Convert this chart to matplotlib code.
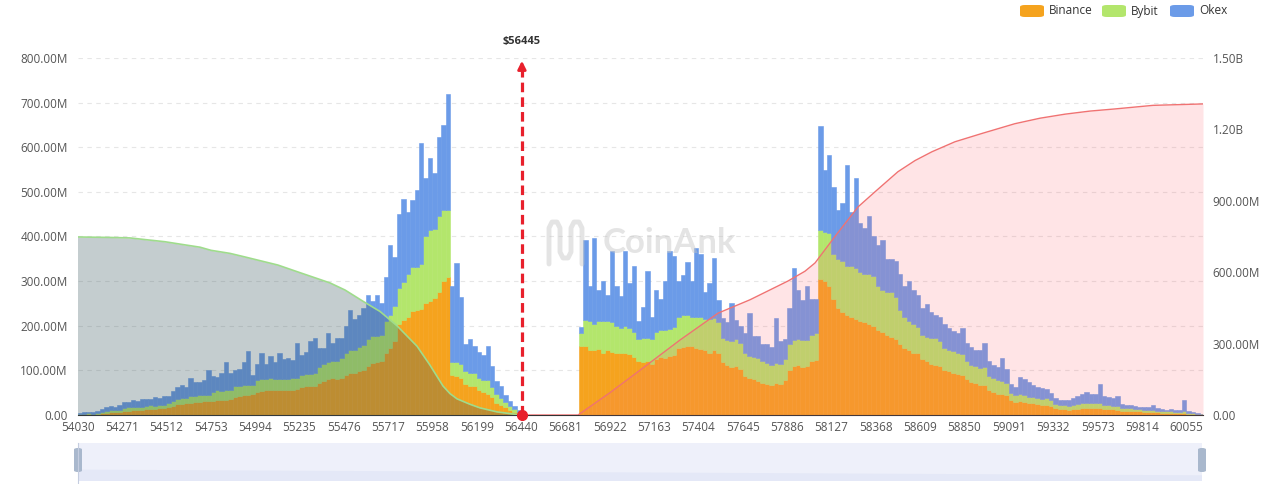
"""Mapa de liquidaciones BTC (estilo CoinAnk): barras apiladas por exchange
y curvas acumuladas de liquidaciones long / short."""
import numpy as np
import matplotlib
matplotlib.use("Agg")
import matplotlib.pyplot as plt
from matplotlib.patches import FancyBboxPatch, Rectangle, Polygon
from matplotlib.lines import Line2D
from matplotlib.ticker import FuncFormatter

plt.rcParams["font.family"] = ["Open Sans", "DejaVu Sans"]

W, H = 1280, 484

# --- datos (millones USD) ---
bin_start = 54030
bin_size = 24.1
current_price = 56445
series_names = ["Binance", "Bybit", "Okex"]

binance = [
    1, 2, 2, 2, 3, 4, 5, 6, 6, 7,
    9, 10, 11, 12, 12, 13, 14, 14, 15, 15,
    17, 20, 24, 25, 27, 28, 29, 30, 31, 31,
    32, 33, 33, 34, 35, 40, 42, 44, 45, 46,
    52, 54, 55, 56, 55, 56, 55, 57, 56, 58,
    62, 64, 66, 66, 72, 76, 80, 82, 80, 84,
    90, 94, 95, 98, 100, 110, 116, 118, 120, 140,
    150, 165, 205, 213, 220, 232, 236, 238, 250, 255,
    262, 275, 300, 310, 90, 88, 84, 70, 66, 64,
    56, 52, 48, 40, 28, 22, 18, 12, 7, 3,
    1,
    0, 0, 0, 0, 0, 0, 0, 0, 0, 0, 0, 0,
    154, 154, 145, 145, 148, 140, 145,
    142, 139, 138, 140, 136, 130, 120, 118, 120, 115,
    125, 130, 128, 132, 135, 150, 152, 155, 154, 150,
    148, 145, 140, 145, 140, 118, 112, 108, 110, 104,
    88, 82, 80, 76, 72, 70, 68, 72, 70, 78,
    100, 110, 112, 108, 110, 120, 124, 305, 300, 290,
    260, 240, 230, 225, 220, 215, 210, 208, 205, 200,
    190, 185, 180, 175, 170, 160, 150, 145, 140, 138,
    125, 120, 115, 112, 110, 100, 98, 95, 92, 90,
    80, 74, 72, 68, 68, 56, 52, 48, 46, 44,
    34, 30, 32, 30, 28, 26, 24, 22, 22, 20,
    15, 14, 13, 12, 13, 14, 15, 16, 15, 16,
    15, 14, 13, 13, 12, 10, 9, 9, 8, 8,
    7, 6, 6, 6, 5, 5, 4, 4, 4, 4,
    3, 2, 2, 1,
]
bybit = [
    1, 1, 2, 1, 2, 3, 4, 5, 5, 5,
    6, 7, 7, 7, 6, 8, 8, 7, 8, 7,
    9, 12, 12, 12, 11, 14, 14, 15, 14, 13,
    20, 22, 21, 22, 20, 24, 24, 24, 23, 22,
    26, 27, 26, 26, 25, 25, 26, 24, 27, 25,
    28, 27, 26, 27, 36, 38, 38, 40, 42, 44,
    50, 52, 50, 55, 56, 60, 60, 58, 60, 70,
    75, 80, 80, 85, 95, 100, 95, 100, 150, 160,
    155, 170, 160, 150, 28, 30, 30, 28, 28, 30,
    26, 26, 30, 22, 18, 16, 12, 9, 6, 3,
    1,
    0, 0, 0, 0, 0, 0, 0, 0, 0, 0, 0, 0,
    29, 59, 65, 60, 62, 70, 65,
    66, 60, 58, 60, 60, 55, 50, 55, 52, 55,
    60, 60, 62, 60, 62, 70, 72, 68, 66, 70,
    72, 70, 75, 72, 68, 55, 56, 58, 60, 58,
    50, 50, 50, 52, 48, 46, 44, 44, 45, 48,
    60, 58, 58, 60, 58, 60, 60, 110, 110, 118,
    100, 110, 115, 110, 115, 115, 110, 108, 110, 112,
    100, 95, 95, 100, 95, 75, 70, 65, 65, 60,
    55, 55, 58, 60, 55, 50, 48, 48, 46, 46,
    40, 38, 38, 38, 40, 32, 30, 30, 30, 28,
    16, 14, 14, 14, 12, 14, 14, 14, 15, 14,
    10, 9, 9, 9, 9, 11, 12, 11, 11, 11,
    11, 9, 9, 8, 9, 6, 6, 6, 6, 5,
    5, 5, 5, 4, 4, 3, 4, 3, 3, 4,
    2, 2, 1, 1,
]
okex = [
    2, 3, 3, 4, 3, 6, 8, 10, 8, 11,
    14, 12, 16, 13, 18, 15, 14, 19, 16, 21,
    16, 22, 26, 30, 25, 40, 30, 28, 33, 56,
    35, 30, 40, 62, 38, 36, 38, 50, 76, 21,
    37, 57, 34, 50, 38, 58, 44, 46, 40, 78,
    45, 50, 74, 79, 42, 36, 66, 40, 50, 45,
    60, 90, 70, 72, 84, 100, 80, 94, 70, 100,
    155, 110, 165, 185, 140, 150, 174, 272, 130, 162,
    125, 177, 190, 260, 170, 222, 150, 62, 76, 60,
    60, 56, 76, 48, 30, 28, 14, 10, 8, 5,
    2,
    0, 0, 0, 0, 0, 0, 0, 0, 0, 0, 0, 0,
    15, 180, 80, 192, 70, 90, 60,
    159, 90, 70, 167, 100, 148, 40, 70, 150, 50,
    95, 70, 110, 175, 160, 80, 90, 120, 80, 155,
    140, 60, 80, 135, 50, 45, 40, 85, 42, 38,
    45, 96, 48, 50, 40, 44, 40, 101, 50, 45,
    80, 162, 110, 90, 120, 80, 75, 233, 140, 174,
    150, 110, 130, 225, 120, 200, 110, 104, 130, 90,
    90, 112, 75, 75, 80, 80, 70, 90, 75, 72,
    60, 73, 57, 53, 55, 55, 50, 45, 46, 60,
    42, 40, 35, 40, 54, 32, 30, 30, 51, 30,
    20, 18, 40, 36, 34, 28, 24, 24, 22, 16,
    12, 11, 12, 13, 16, 18, 20, 25, 20, 20,
    44, 20, 18, 16, 21, 8, 7, 8, 7, 6,
    5, 6, 11, 5, 5, 4, 5, 5, 4, 25,
    4, 3, 2, 1,
]

# acumulado de liquidaciones (eje derecho, millones)
long_cum_price = [54030, 54207, 54315, 54397, 54505, 54587, 54696, 54755, 54859,
                  54940, 55119, 55239, 55402, 55484, 55581, 55674, 55766, 55875,
                  55945, 56016, 56054, 56092, 56163, 56217, 56310, 56419, 56440]
long_cum_value = [748, 746, 744, 737, 728, 718, 705, 692, 679,
                  664, 630, 598, 555, 525, 478, 435, 375, 289,
                  210, 122, 90, 68, 45, 30, 13, 2, 0]
short_cum_price = [56440, 56750, 56924, 57114, 57304, 57511, 57684, 57891, 57983,
                   58038, 58146, 58271, 58364, 58488, 58581, 58673, 58798, 58945,
                   59124, 59260, 59396, 59532, 59668, 59874, 60146]
short_cum_value = [0, 0, 94, 204, 315, 428, 484, 563, 604,
                   639, 750, 874, 938, 1022, 1069, 1106, 1148, 1183,
                   1224, 1247, 1264, 1277, 1286, 1301, 1307]

x_tick_labels = [54030 + 241 * k for k in range(26)]

C_BIN, C_BYB, C_OKX = "#f5a31e", "#b3e66c", "#6b9be8"
RED = "#e8202c"


def fx(x):
    return x / W


def fy(y):
    return 1 - y / H


fig = plt.figure(figsize=(W / 100, H / 100), dpi=100)
ax = fig.add_axes([fx(77.5), fy(415), (1203 - 77.5) / W, (415 - 58) / H])
ax.set_xlim(54030, 60146)
ax.set_ylim(0, 800)

prices = bin_start + bin_size * np.arange(len(binance))
b0, b1, b2 = np.array(binance), np.array(bybit), np.array(okex)
for vals, bottom, col in [(b0, 0, C_BIN), (b1, b0, C_BYB), (b2, b0 + b1, C_OKX)]:
    ax.bar(prices, vals, bottom=bottom, width=bin_size, align="edge",
           color=col, edgecolor=col, linewidth=0.4)

ax.set_yticks(range(0, 801, 100))
ax.yaxis.grid(True, linestyle=(0, (4, 4)), color="#e6e6e6", linewidth=0.8)
ax.set_axisbelow(True)
ax.set_xticks(x_tick_labels)
ax.set_xticklabels([str(v) for v in x_tick_labels])
ax.yaxis.set_major_formatter(FuncFormatter(lambda v, p: "0.00" if v == 0 else f"{v:.2f}M"))
ax.tick_params(length=0, labelsize=8.5, colors="#555555")
ax.tick_params(axis="y", pad=7)
ax.tick_params(axis="x", pad=4)
for s in ["top", "right", "left"]:
    ax.spines[s].set_visible(False)
ax.spines["bottom"].set_color("#333333")

ax2 = ax.twinx()
ax2.set_ylim(0, 1500)
ax2.set_yticks(range(0, 1501, 300))
ax2.yaxis.set_major_formatter(FuncFormatter(
    lambda v, p: "0.00" if v == 0 else (f"{v / 1000:.2f}B" if v >= 1000 else f"{v:.2f}M")))
ax2.tick_params(length=0, labelsize=8.5, colors="#555555", pad=7)
for s in ax2.spines.values():
    s.set_visible(False)

ax2.fill_between(long_cum_price, long_cum_value, color="#3e5c62", alpha=0.3, linewidth=0)
ax2.plot(long_cum_price, long_cum_value, color="#9fdc8c", lw=1.2)
ax2.fill_between(short_cum_price, short_cum_value, color="#ff6b76", alpha=0.18, linewidth=0)
ax2.plot(short_cum_price, short_cum_value, color="#f07272", lw=1)

# precio actual
ax2.plot([current_price, current_price], [0, 1455], color=RED, lw=2.3, dashes=(3, 1.6))
ax2.annotate("", xy=(current_price, 1500), xytext=(current_price, 1445),
             arrowprops=dict(arrowstyle="-|>", color=RED, lw=2, mutation_scale=12))
ax2.plot([current_price], [0], "o", ms=7, color=RED, clip_on=False, zorder=10)
ax2.annotate(f"${current_price}", xy=(current_price, 1500), xytext=(0, 12),
             textcoords="offset points", ha="center", va="center",
             fontsize=8, fontweight="bold", color="#333333", annotation_clip=False)

# marca de agua
fig.text(fx(669), fy(243), "CoinAnk", ha="center", va="center", fontsize=25,
         fontweight="bold", color="#c4c4c4", alpha=0.45, family="Lato")
logo = [(549, 264), (549, 228), (552, 222), (557, 222), (560, 228), (560, 252),
        (563, 258), (568, 258), (571, 252), (571, 228), (574, 222), (579, 222),
        (582, 228), (582, 264)]
fig.add_artist(Line2D([fx(p[0]) for p in logo], [fy(p[1]) for p in logo],
                      transform=fig.transFigure, color="#c4c4c4", alpha=0.45,
                      lw=3.5, solid_capstyle="round", solid_joinstyle="round"))

# leyenda
for (x0, name, col) in [(1020, series_names[0], C_BIN), (1102, series_names[1], C_BYB),
                        (1170, series_names[2], C_OKX)]:
    fig.add_artist(FancyBboxPatch((fx(x0), fy(17)), 24 / W, 12 / H,
                                  boxstyle="round,pad=0,rounding_size=0.004",
                                  transform=fig.transFigure, color=col, linewidth=0))
    fig.text(fx(x0 + 29), fy(11), name, ha="left", va="center", fontsize=8.5, color="#333333")

# dataZoom inferior
axs = fig.add_axes([fx(77.5), fy(481), (1202 - 77.5) / W, (481 - 443) / H])
axs.set_xlim(0, 1)
axs.set_ylim(0, 1)
axs.axis("off")
axs.add_patch(Rectangle((0, 0), 1, 1, color="#eef0fa", linewidth=0))
axs.add_patch(Polygon([(0, 0), (0, 0.3), (1, 0.15), (1, 0)], closed=True,
                      color="#e4e8f7", linewidth=0))
fig.add_artist(Line2D([fx(78), fx(78)], [fy(443), fy(484)], transform=fig.transFigure,
                      color="#c5cde0", lw=0.8))
for xh in (78, 1202):
    fig.add_artist(FancyBboxPatch((fx(xh - 4), fy(472)), 8 / W, 24 / H,
                                  boxstyle="round,pad=0,rounding_size=0.003",
                                  transform=fig.transFigure, color="#a9b8cd", linewidth=0))

fig.savefig("out.png", dpi=100)
